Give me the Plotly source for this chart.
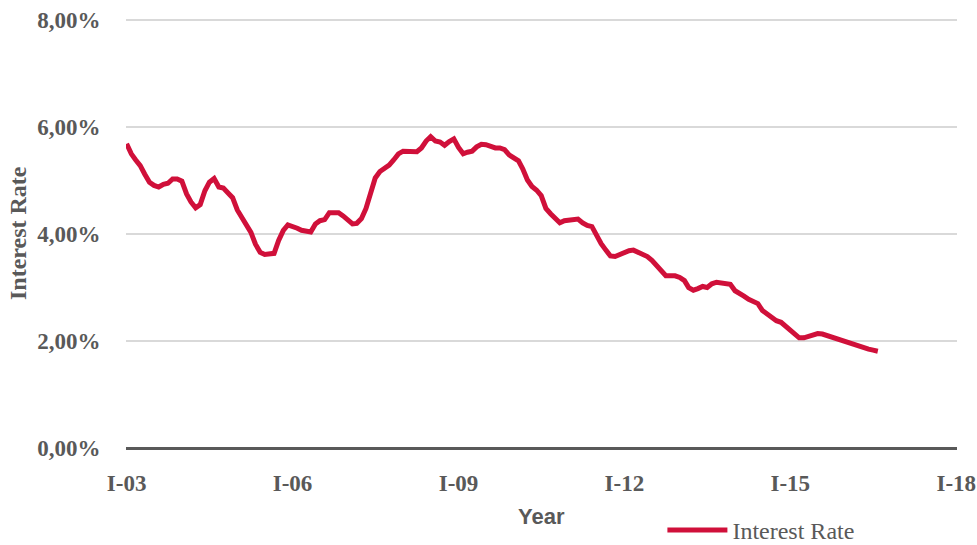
import pandas as pd
import plotly.graph_objects as go

# Monthly interest rate (%), Jan 2003 onward
rate_pct = [
    5.69, 5.50, 5.39, 5.28, 5.12, 4.97, 4.91, 4.88, 4.93, 4.95, 5.03, 5.03,
    4.99, 4.75, 4.60, 4.49, 4.55, 4.81, 4.97, 5.04, 4.88, 4.86, 4.77, 4.68,
    4.45, 4.30, 4.17, 4.03, 3.81, 3.66, 3.62, 3.62, 3.64, 3.88, 4.07, 4.17,
    4.15, 4.11, 4.07, 4.06, 4.04, 4.19, 4.25, 4.27, 4.40, 4.40, 4.40, 4.34,
    4.25, 4.19, 4.20, 4.29, 4.48, 4.78, 5.05, 5.17, 5.23, 5.29, 5.39, 5.50,
    5.55, 5.54, 5.54, 5.54, 5.61, 5.74, 5.82, 5.74, 5.72, 5.66, 5.73, 5.78,
    5.62, 5.50, 5.53, 5.55, 5.63, 5.68, 5.67, 5.64, 5.61, 5.61, 5.58, 5.48,
    5.42, 5.37, 5.22, 5.01, 4.89, 4.82, 4.72, 4.48, 4.38, 4.29, 4.21, 4.25,
    4.26, 4.28, 4.28, 4.21, 4.16, 4.14, 3.96, 3.82, 3.70, 3.59, 3.58, 3.62,
    3.66, 3.69, 3.70, 3.66, 3.61, 3.58, 3.51, 3.40, 3.31, 3.22, 3.22, 3.22,
    3.19, 3.13, 3.00, 2.95, 2.98, 3.02, 3.00, 3.07, 3.10, 3.09, 3.07, 3.06,
    2.94, 2.90, 2.84, 2.78, 2.74, 2.70, 2.57, 2.51, 2.45, 2.38, 2.35, 2.27,
    2.19, 2.12, 2.06, 2.06, 2.09, 2.12, 2.14, 2.13, 2.10, 2.07, 2.05, 2.02,
    2.00, 1.97, 1.93, 1.89, 1.87, 1.85, 1.83, 1.81,
]
start_month = "2003-01-01"
tick_dates = ["2003-01-01", "2006-01-01", "2009-01-01", "2012-01-01", "2015-01-01", "2018-01-01"]
tick_labels = ["I-03", "I-06", "I-09", "I-12", "I-15", "I-18"]
y_ticks = [0.0, 0.02, 0.04, 0.06, 0.08]
series_name = "Interest Rate"

dates = pd.date_range(start_month, periods=len(rate_pct), freq="MS")
rate = [v / 100 for v in rate_pct]

GRAY = "#595959"
RED = "#D0103A"

fig = go.Figure()
fig.add_trace(go.Scatter(
    x=dates, y=rate, mode="lines", name=series_name,
    line=dict(color=RED, width=5),
))

fig.update_layout(
    width=977, height=545,
    margin=dict(l=126, r=20, t=18, b=97, autoexpand=False),
    paper_bgcolor="white", plot_bgcolor="white",
    separators=",.",
    showlegend=True,
    legend=dict(
        orientation="h", xref="container", yref="container",
        x=0.678, y=0.027, xanchor="left", yanchor="middle",
        itemwidth=60,
        font=dict(family="Liberation Serif", size=24, color=GRAY),
        bgcolor="rgba(0,0,0,0)",
    ),
    xaxis=dict(
        range=["2002-12-28", "2018-01-06"], automargin=False,
        tickmode="array", tickvals=tick_dates, ticktext=tick_labels,
        ticklabeloverflow="allow",
        showgrid=False, zeroline=False, showline=False,
        ticks="outside", ticklen=14, tickcolor="rgba(0,0,0,0)",
        tickfont=dict(family="Liberation Serif", size=23, color=GRAY, weight="bold"),
    ),
    yaxis=dict(
        range=[0, 0.0804], automargin=False,
        tickmode="array", tickvals=y_ticks, tickformat=".2%",
        showgrid=True, gridcolor="#D9D9D9", gridwidth=1.5,
        zeroline=True, zerolinecolor=GRAY, zerolinewidth=3,
        showline=False,
        ticks="outside", ticklen=20, tickcolor="rgba(0,0,0,0)",
        tickfont=dict(family="Liberation Serif", size=23, color=GRAY, weight="bold"),
    ),
    annotations=[
        dict(text="Interest Rate", xref="paper", yref="paper", x=0, y=0.5,
             xshift=-108, textangle=-90, showarrow=False, xanchor="center", yanchor="middle",
             font=dict(family="Liberation Serif", size=24, color=GRAY, weight="bold")),
        dict(text="Year", xref="paper", yref="paper", x=0.5, y=0,
             yshift=-68, showarrow=False, xanchor="center", yanchor="middle",
             font=dict(family="Liberation Sans", size=22, color=GRAY, weight="bold")),
    ],
)

fig.write_html("out.html", config={"displayModeBar": False},
               post_script="document.body.style.margin='0';")
